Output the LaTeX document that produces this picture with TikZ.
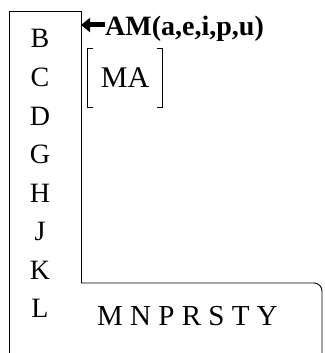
\documentclass[tikz,border=0pt]{standalone}
\usepackage{fontspec}
\setmainfont{Liberation Serif}
\usetikzlibrary{arrows.meta}
\tikzset{
	letter/.style={anchor=base, inner sep=0pt, font=\fontsize{28}{34}\selectfont},
	frame/.style={draw, line width=0.9pt},
}

\begin{document}
\begin{tikzpicture}[x=1pt,y=-1pt]
	\clip (0,0) rectangle (324,353);
	
	\node(lB) at (40,48) [letter] {B};
	\node(lC) at (40,86.5) [letter] {C};
	\node(lD) at (40,125) [letter] {D};
	\node(lG) at (40,163.5) [letter] {G};
	\node(lH) at (40,202) [letter] {H};
	\node(lJ) at (40,240.5) [letter] {J};
	\node(lK) at (40,279) [letter] {K};
	\node(lL) at (40,317.5) [letter] {L};
	
	% column and lower box
	\draw[frame] (9,362) -- (9,11) -- (81,11) -- (81,283);
	\draw[frame, rounded corners=8] (81,283) -- (322,283) -- (322,362);
	
	\node(row) at (97,325) [letter, anchor=base west, font=\fontsize{29}{34}\selectfont] {M N P R S T Y};
	
	\node(am) at (105,36) [letter, anchor=base west, font=\fontsize{28}{34}\selectfont\bfseries] {AM(a,e,i,p,u)};
	\coordinate(tip) at (81,25);
	\draw[-{Triangle[length=9pt,width=14pt]}, line width=5pt] (am.west |- tip) -- (tip);
	
	\node(ma) at (125,78) [minimum width=75, minimum height=59, inner sep=0pt, font=\fontsize{30}{34}\selectfont] {MA};
	\draw[frame] ([xshift=6]ma.north west) -| (ma.south west) -- ++(6,0);
	\draw[frame] ([xshift=-6]ma.north east) -| (ma.south east) -- ++(-6,0);
\end{tikzpicture}
\end{document}
